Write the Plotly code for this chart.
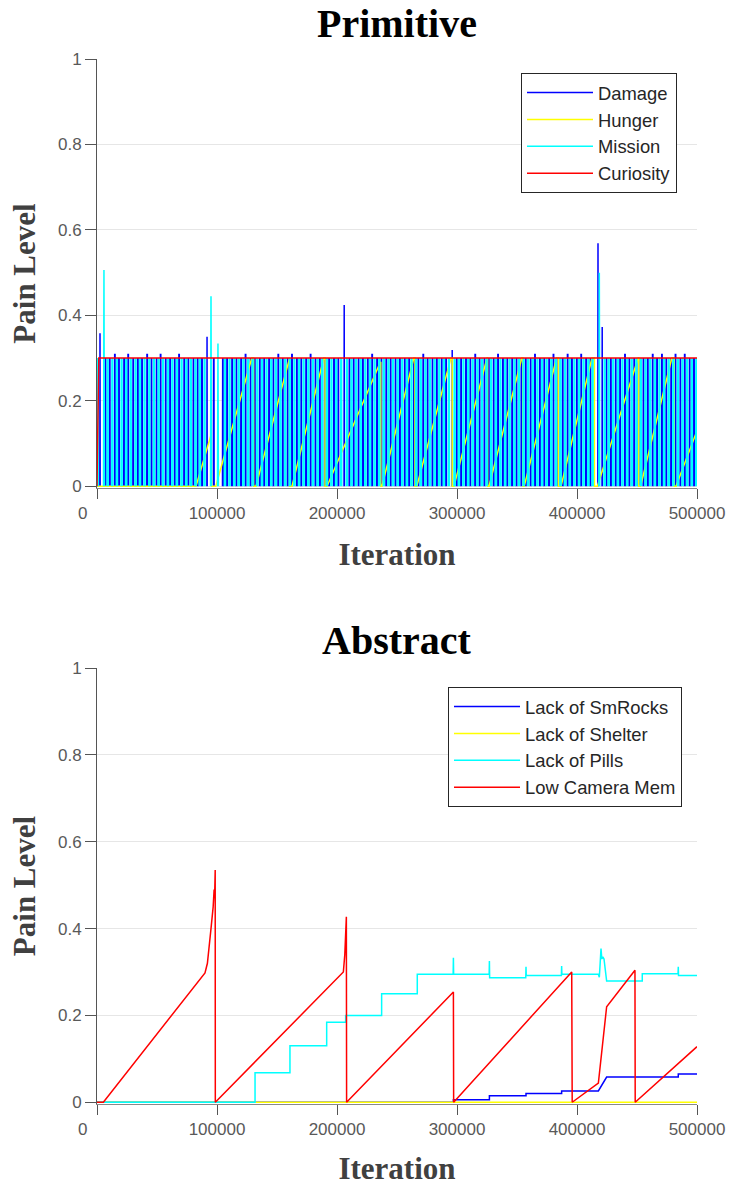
import plotly.graph_objects as go

# ---------------- Primitive pains ----------------
# Damage / Mission pains fire as short spikes (iterations given in thousands)
damage_k = [
    7.1, 10.6, 14.9, 18.3, 22.6, 26.0, 30.2, 34.1, 37.5,
    41.8, 45.4, 49.7, 53.0, 57.3, 60.9, 64.8, 68.4, 72.7, 76.1,
    80.4, 83.9, 87.5, 97.3, 104.9, 108.4, 112.6, 116.2, 120.1,
    123.8, 128.0, 131.5, 135.7, 139.3, 143.4, 147.0, 151.1, 154.8, 158.9,
    162.5, 166.6, 170.2, 174.3, 178.0, 182.1, 185.7, 189.8, 193.4, 197.5,
    201.1, 210.4, 213.9, 218.0, 221.6, 225.7, 229.3, 233.4, 237.0,
    241.1, 244.7, 248.8, 252.4, 256.5, 260.1, 264.2, 267.8, 271.9, 275.5,
    279.6, 283.2, 287.3, 290.9, 299.8, 303.4, 307.5, 311.1, 315.2,
    318.8, 322.9, 326.5, 330.6, 334.2, 338.3, 341.9, 346.0, 349.6, 353.7,
    357.3, 361.4, 365.0, 369.1, 372.7, 376.8, 380.4, 384.5, 388.1, 392.2,
    395.8, 399.9, 403.5, 407.6, 411.2, 424.6, 428.2, 432.3,
    435.9, 440.0, 443.6, 447.7, 451.3, 455.4, 459.0, 463.1, 466.7, 470.8,
    474.4, 478.5, 482.1, 486.2, 489.8, 493.9, 497.5,
]
# spikes that just poke above the 0.3 band
damage_bump_k = {
    14.9: 0.31, 26.0: 0.31, 41.8: 0.31, 53.0: 0.31, 68.4: 0.31, 123.8: 0.31,
    151.1: 0.31, 162.5: 0.31, 178.0: 0.31, 229.3: 0.31, 271.9: 0.31, 315.2: 0.31,
    334.2: 0.31, 365.0: 0.31, 380.4: 0.31, 392.2: 0.31, 403.5: 0.31, 440.0: 0.31,
    463.1: 0.31, 470.8: 0.31, 482.1: 0.31, 489.8: 0.31,
}
# Damage spikes that rise well above the band
damage_high_k = [2.5, 91.7, 206.0, 296.0, 417.5, 421.0]
damage_high_peak = [0.358, 0.35, 0.424, 0.319, 0.569, 0.373]

# Mission spikes that stay inside the 0-0.3 band
mission_k = [
    0.6, 8.9, 12.8, 16.6, 20.5, 24.3, 28.1, 32.2, 35.8,
    39.6, 43.6, 47.5, 51.3, 55.1, 59.1, 62.8, 66.6, 70.5, 74.4,
    78.2, 82.1, 85.7, 89.6, 106.6, 110.5, 114.4, 118.1,
    122.0, 125.9, 129.7, 133.6, 137.5, 141.3, 145.2, 149.0, 152.9, 156.8,
    160.7, 164.5, 168.4, 172.2, 176.1, 180.0, 183.9, 187.7, 191.6, 195.4,
    199.3, 203.5, 208.2, 212.1, 215.9, 219.8, 223.6, 227.5, 231.3, 235.2,
    239.0, 242.9, 246.7, 250.6, 254.4, 258.3, 262.1, 266.0, 269.8, 273.7,
    277.5, 281.4, 285.2, 289.1, 293.2, 298.0, 301.6, 305.4, 309.3, 313.1,
    317.0, 320.8, 324.7, 328.5, 332.4, 336.2, 340.1, 343.9, 347.8, 351.6,
    355.5, 359.3, 363.2, 367.0, 370.9, 374.7, 378.6, 382.4, 386.3, 390.1,
    394.0, 397.8, 401.7, 405.5, 409.4, 413.0, 423.0, 426.4, 430.2,
    434.1, 437.9, 441.8, 445.6, 449.5, 453.3, 457.2, 461.0, 464.9, 468.7,
    472.6, 476.4, 480.3, 484.1, 488.0, 491.8, 495.7, 499.4,
]
# Mission spikes that rise above the band
mission_high_k = [5.8, 95.0, 100.8, 418.6]
mission_high_peak = [0.506, 0.445, 0.334, 0.50]

# Hunger: slow ramps with resets (iteration, value)
hunger_iter = [0, 82500, 95000, 95500, 99000, 129000, 130500, 130500, 132500,
               160000, 160500, 160500, 162500, 189000, 190000, 190000, 191700,
               236000, 236500, 236500, 237500, 264000, 265000, 265000, 266500,
               295000, 296000, 296000, 297500, 325000, 325500, 325500, 326700,
               354000, 355000, 355000, 356000, 383000, 384500, 384500, 386700,
               412500, 414500, 414500, 417000, 451000, 451500, 451500, 453000,
               479000, 481000, 481000, 482500, 500000]
hunger_val = [0, 0, 0.12, 0, 0, 0.3, 0.3, 0, 0,
              0.3, 0.3, 0, 0, 0.3, 0.3, 0, 0,
              0.29, 0.29, 0, 0, 0.3, 0.3, 0, 0,
              0.3, 0.3, 0, 0, 0.3, 0.3, 0, 0,
              0.3, 0.3, 0, 0, 0.3, 0.3, 0, 0,
              0.3, 0.3, 0, 0, 0.3, 0.3, 0, 0,
              0.3, 0.3, 0, 0, 0.13]

curiosity_iter = [0, 1500, 500000]
curiosity_val = [0, 0.3, 0.3]

# ---------------- Abstract pains ----------------
smrocks_iter = [0, 297000, 297000, 327000, 327000, 357500, 357500, 387200, 387200,
                417800, 424700, 484400, 484400, 500000]
smrocks_val = [0, 0, 0.006, 0.006, 0.015, 0.015, 0.020, 0.020, 0.026,
               0.026, 0.058, 0.058, 0.065, 0.065]

shelter_iter = [0, 500000]
shelter_val = [0, 0]

pills_iter = [0, 131700, 131700, 160800, 160800, 191400, 191400, 207200, 207200,
              237200, 237200, 266900, 266900, 296800, 297000, 297200,
              326800, 327000, 327200, 357300, 357500, 357700, 387000, 387200, 387400,
              417800, 418600, 419300, 420000, 420700, 421500, 422500, 424700,
              454400, 454400, 484200, 484400, 484600, 500000]
pills_val = [0, 0, 0.068, 0.068, 0.13, 0.13, 0.184, 0.184, 0.20,
             0.20, 0.25, 0.25, 0.295, 0.295, 0.333, 0.295,
             0.295, 0.325, 0.287, 0.287, 0.312, 0.292, 0.292, 0.314, 0.295,
             0.295, 0.288, 0.32, 0.354, 0.33, 0.335, 0.33, 0.279,
             0.279, 0.296, 0.296, 0.312, 0.292, 0.292]

camera_iter = [0, 5300, 90000, 92000, 95000, 96800, 97600, 98000, 98500, 98600,
               205300, 206500, 207800, 208000, 297000, 297200, 395600, 396000,
               417800, 424700, 448300, 448500, 500000]
camera_val = [0, 0, 0.298, 0.32, 0.40, 0.45, 0.49, 0.47, 0.535, 0,
              0.30, 0.34, 0.427, 0, 0.254, 0, 0.30, 0,
              0.044, 0.22, 0.304, 0, 0.128]

x_ticks = [0, 100000, 200000, 300000, 400000, 500000]
y_ticks = [0, 0.2, 0.4, 0.6, 0.8, 1]
y_ticktext = ["0", "0.2", "0.4", "0.6", "0.8", "1"]

BLUE, YELLOW, CYAN, RED = "#0000FF", "#FFFF00", "#00FFFF", "#FF0000"


def spike_series(times_k, peaks, half=150):
    """Each spike rises from 0 to its peak and back; spikes are kept as separate strokes."""
    xs, ys = [], []
    for t, p in zip(times_k, peaks):
        it = int(round(t * 1000))
        xs += [it - half, it, it + half, None]
        ys += [0, p, 0, None]
    return xs, ys


dmg_x, dmg_y = spike_series(damage_k, [damage_bump_k.get(t, 0.3) for t in damage_k])
dhi_x, dhi_y = spike_series(damage_high_k, damage_high_peak)
mis_x, mis_y = spike_series(mission_k, [0.3] * len(mission_k))
mhi_x, mhi_y = spike_series(mission_high_k, mission_high_peak, half=400)

fig = go.Figure()

# top panel
fig.add_trace(go.Scatter(x=dmg_x, y=dmg_y, mode="lines", name="Damage", legendgroup="damage",
                         showlegend=False, connectgaps=False, line=dict(color=BLUE, width=1.9),
                         xaxis="x", yaxis="y", legend="legend"))
fig.add_trace(go.Scatter(x=dhi_x, y=dhi_y, mode="lines", name="Damage", legendgroup="damage",
                         legendrank=1, connectgaps=False, line=dict(color=BLUE, width=1.5),
                         xaxis="x", yaxis="y", legend="legend"))
fig.add_trace(go.Scatter(x=hunger_iter, y=hunger_val, mode="lines", name="Hunger", legendrank=2,
                         line=dict(color=YELLOW, width=1.5), xaxis="x", yaxis="y", legend="legend"))
fig.add_trace(go.Scatter(x=mis_x, y=mis_y, mode="lines", name="Mission", legendgroup="mission",
                         showlegend=False, connectgaps=False, line=dict(color=CYAN, width=2.3),
                         xaxis="x", yaxis="y", legend="legend"))
fig.add_trace(go.Scatter(x=mhi_x, y=mhi_y, mode="lines", name="Mission", legendgroup="mission",
                         legendrank=3, connectgaps=False, line=dict(color=CYAN, width=1.5),
                         xaxis="x", yaxis="y", legend="legend"))
fig.add_trace(go.Scatter(x=curiosity_iter, y=curiosity_val, mode="lines", name="Curiosity",
                         legendrank=4, line=dict(color=RED, width=1.5),
                         xaxis="x", yaxis="y", legend="legend"))

# bottom panel
fig.add_trace(go.Scatter(x=smrocks_iter, y=smrocks_val, mode="lines", name="Lack of SmRocks",
                         line=dict(color=BLUE, width=1.5), xaxis="x2", yaxis="y2", legend="legend2"))
fig.add_trace(go.Scatter(x=shelter_iter, y=shelter_val, mode="lines", name="Lack of Shelter",
                         line=dict(color=YELLOW, width=1.5), xaxis="x2", yaxis="y2", legend="legend2"))
fig.add_trace(go.Scatter(x=pills_iter, y=pills_val, mode="lines", name="Lack of Pills",
                         line=dict(color=CYAN, width=1.5), xaxis="x2", yaxis="y2", legend="legend2"))
fig.add_trace(go.Scatter(x=camera_iter, y=camera_val, mode="lines", name="Low Camera Mem",
                         line=dict(color=RED, width=1.5), xaxis="x2", yaxis="y2", legend="legend2"))

W, H = 731, 1186
XDOM = [97 / W, 697 / W]
TOP_DOM = [(H - 488) / H, (H - 59) / H]
BOT_DOM = [(H - 1104) / H, (H - 668) / H]
Y_RANGE = [-0.004, 1]

TICK_FONT = dict(family="Liberation Sans, Arial", size=17, color="#595959")
AX_TITLE_FONT = dict(family="Liberation Serif, Times New Roman", size=31, color="#404040", weight="bold")

x_ticktext = [""] + [str(v) for v in x_ticks[1:]]


def xaxis(anchor, title_text):
    return dict(domain=XDOM, anchor=anchor, range=[0, 500000], tickmode="array",
                tickvals=x_ticks, ticktext=x_ticktext, ticks="outside", ticklen=10,
                tickcolor="#555555", tickwidth=1, showline=True, linecolor="#888888",
                linewidth=1, layer="below traces", showgrid=False,
                zeroline=False, tickfont=TICK_FONT, automargin=False,
                title=dict(text=title_text, font=AX_TITLE_FONT, standoff=20))


def yaxis(anchor, dom, title_text):
    return dict(domain=dom, anchor=anchor, range=Y_RANGE, tickmode="array",
                tickvals=y_ticks, ticktext=y_ticktext, ticks="outside", ticklen=11,
                tickcolor="#555555", tickwidth=1, showline=True, linecolor="#555555",
                linewidth=1, showgrid=True, gridcolor="#e6e6e6", gridwidth=1,
                zeroline=False, tickfont=TICK_FONT, automargin=False,
                title=dict(text=title_text, font=AX_TITLE_FONT, standoff=13))


legend_common = dict(bgcolor="white", bordercolor="#262626", borderwidth=1,
                     font=dict(family="Liberation Sans, Arial", size=18.4, color="#262626"),
                     xanchor="right", yanchor="top", itemwidth=66, tracegroupgap=0)

title_font = dict(family="Liberation Serif, Times New Roman", size=40, color="black", weight="bold")

fig.update_layout(
    width=W, height=H, margin=dict(l=0, r=0, t=0, b=0),
    paper_bgcolor="white", plot_bgcolor="white",
    xaxis=xaxis("y", "Iteration"),
    yaxis=yaxis("x", TOP_DOM, "Pain Level"),
    xaxis2=xaxis("y2", "Iteration"),
    yaxis2=yaxis("x2", BOT_DOM, "Pain Level"),
    legend=dict(x=677 / W, y=(H - 73) / H, **legend_common),
    legend2=dict(x=682 / W, y=(H - 687) / H, **legend_common),
    annotations=[
        dict(text="Primitive", xref="x domain", yref="paper", x=0.5, y=(H - 24) / H,
             xanchor="center", yanchor="middle", showarrow=False, font=title_font),
        dict(text="Abstract", xref="x2 domain", yref="paper", x=0.5, y=(H - 640) / H,
             xanchor="center", yanchor="middle", showarrow=False, font=title_font),
        dict(text="0", xref="x", yref="y domain", x=0, y=0, xanchor="center", yanchor="top",
             xshift=-15, yshift=-14, showarrow=False, font=TICK_FONT),
        dict(text="0", xref="x2", yref="y2 domain", x=0, y=0, xanchor="center", yanchor="top",
             xshift=-15, yshift=-14, showarrow=False, font=TICK_FONT),
    ],
    showlegend=True,
)

fig.write_html("out.html")
